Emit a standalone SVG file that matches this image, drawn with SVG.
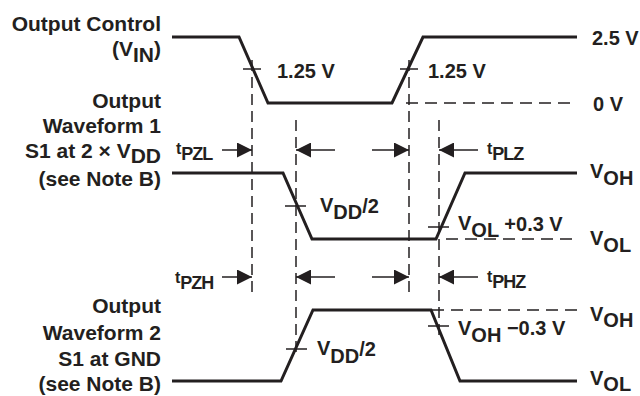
<svg xmlns="http://www.w3.org/2000/svg" width="640" height="396" viewBox="0 0 640 396">
<defs>
<style>
text{font-family:"Liberation Sans",Arial,sans-serif;font-weight:bold;font-size:20px;fill:#231f20}
.lbl{text-anchor:end;font-size:21px}
.wave{fill:none;stroke:#231f20;stroke-width:3;stroke-linejoin:miter}
.dash{fill:none;stroke:#231f20;stroke-width:1.5;stroke-dasharray:11 6}
.hdash{fill:none;stroke:#231f20;stroke-width:1.5;stroke-dasharray:12 7}
.tick{fill:none;stroke:#231f20;stroke-width:1.5}
.arr{fill:none;stroke:#231f20;stroke-width:1.5;marker-end:url(#ah)}
.t{font-size:16px}
.ts{font-size:18px;letter-spacing:-1px}
</style>
<marker id="ah" markerUnits="userSpaceOnUse" markerWidth="15" markerHeight="15" refX="15" refY="7.5" orient="auto" viewBox="0 0 15 15">
<path d="M0,0 L15,7.5 L0,15 z" fill="#231f20"/>
</marker>
</defs>
<rect width="640" height="396" fill="#fff"/>

<g id="labels-left">
<text class="lbl" x="161" y="31">Output Control</text>
<text class="lbl" x="161" y="56">(V<tspan dy="6">IN</tspan><tspan dy="-6">)</tspan></text>
<text class="lbl" x="161" y="108">Output</text>
<text class="lbl" x="161" y="133">Waveform 1</text>
<text class="lbl" x="161" y="158">S1 at 2 × V<tspan dy="5">DD</tspan></text>
<text class="lbl" x="161" y="186">(see Note B)</text>
<text class="lbl" x="161" y="313">Output</text>
<text class="lbl" x="161" y="340">Waveform 2</text>
<text class="lbl" x="161" y="366">S1 at GND</text>
<text class="lbl" x="161" y="391">(see Note B)</text>
</g>

<g id="labels-right">
<text x="592" y="45">2.5 V</text>
<text x="593" y="111">0 V</text>
<text x="590" y="178">V<tspan dy="7">OH</tspan></text>
<text x="590" y="245">V<tspan dy="7">OL</tspan></text>
<text x="590" y="321">V<tspan dy="6">OH</tspan></text>
<text x="590" y="385">V<tspan dy="6">OL</tspan></text>
</g>

<g id="waveform-control">
<polyline class="wave" points="172,37 239,37 268,103 392,103 423,37 577,37"/>
<line class="hdash" x1="406" y1="103" x2="577" y2="103"/>
<line class="tick" x1="243" y1="69" x2="261" y2="69"/>
<line class="tick" x1="400" y1="69" x2="418" y2="69"/>
<text x="277" y="78">1.25 V</text>
<text x="428" y="78">1.25 V</text>
</g>

<g id="waveform-1">
<polyline class="wave" points="172,173 283,173 312,239 436,239 465,173 577,173"/>
<line class="hdash" x1="446" y1="239" x2="577" y2="239"/>
<line class="tick" x1="285" y1="206" x2="306" y2="206"/>
<line class="tick" x1="428" y1="227" x2="449" y2="227"/>
<text x="320" y="212">V<tspan dy="7">DD</tspan><tspan dy="-6">/2</tspan></text>
<text x="458" y="230">V<tspan dy="7">OL</tspan><tspan dy="-6"> +0.3 V</tspan></text>
</g>

<g id="waveform-2">
<polyline class="wave" points="172,381 281,381 313,310 431,310 460,381 577,381"/>
<line class="hdash" x1="432" y1="310" x2="577" y2="310"/>
<line class="tick" x1="286" y1="349" x2="307" y2="349"/>
<line class="tick" x1="428" y1="326" x2="449" y2="326"/>
<text x="317" y="355">V<tspan dy="8">DD</tspan><tspan dy="-7">/2</tspan></text>
<text x="458" y="335">V<tspan dy="7">OH</tspan><tspan dy="-7"> −0.3 V</tspan></text>
</g>

<g id="connectors">
<line class="dash" x1="252" y1="60" x2="252" y2="298"/>
<line class="dash" x1="409" y1="60" x2="409" y2="298"/>
<line class="dash" x1="296" y1="120" x2="296" y2="358"/>
<line class="dash" x1="439" y1="120" x2="439" y2="337"/>
<line class="arr" x1="222" y1="150" x2="252" y2="150"/>
<line class="arr" x1="335" y1="150" x2="296" y2="150"/>
<line class="arr" x1="372" y1="150" x2="409" y2="150"/>
<line class="arr" x1="478" y1="150" x2="439" y2="150"/>
<line class="arr" x1="222" y1="277" x2="252" y2="277"/>
<line class="arr" x1="335" y1="277" x2="296" y2="277"/>
<line class="arr" x1="372" y1="277" x2="409" y2="277"/>
<line class="arr" x1="478" y1="277" x2="439" y2="277"/>
</g>

<g id="timing-labels">
<text x="176" y="154" class="t">t<tspan class="ts" dy="6">PZL</tspan></text>
<text x="487" y="154" class="t">t<tspan class="ts" dy="6">PLZ</tspan></text>
<text x="175" y="283" class="t">t<tspan class="ts" dy="6">PZH</tspan></text>
<text x="487" y="282" class="t">t<tspan class="ts" dy="6">PHZ</tspan></text>
</g>
</svg>
